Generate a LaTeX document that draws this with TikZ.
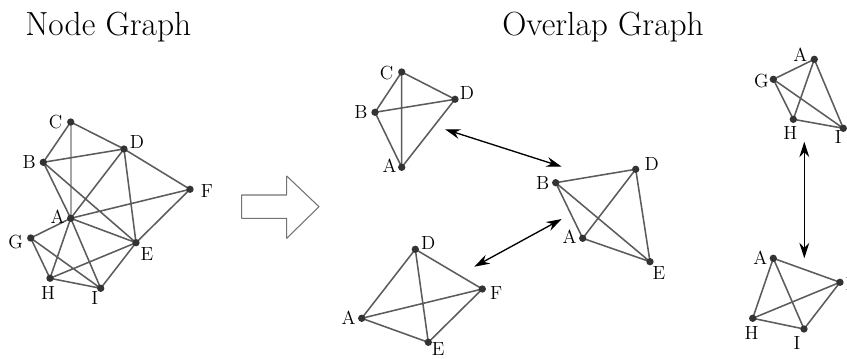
\documentclass[tikz,border=0pt]{standalone}
\usetikzlibrary{calc,arrows.meta}
\begin{document}
\begin{tikzpicture}[x=0.025cm,y=-0.025cm, line join=round, line cap=round,
	edge/.style={black!64,line width=1.1pt},
	lbl/.style={font=\fontsize{13.5}{14}\selectfont,inner sep=0pt},
	ttl/.style={font=\fontsize{23.8}{28}\selectfont,inner sep=0pt,anchor=base west},
	dbl/.style={{Stealth[length=11pt,width=7pt]}-{Stealth[length=11pt,width=7pt]},line width=0.95pt}]
	\useasboundingbox (0,0) rectangle (847,359);
	\node[ttl] (t1) at (25,36) {Node Graph};
	\node[ttl] (t2) at (502,36) {Overlap Graph};
	% node graph
	\coordinate (C) at (70.7,122);
	\coordinate (D) at (124,149);
	\coordinate (B) at (43.3,162.3);
	\coordinate (F) at (190,189.3);
	\coordinate (A) at (70.7,218.3);
	\coordinate (G) at (30.7,238);
	\coordinate (E) at (136,242.7);
	\coordinate (H) at (50,278.3);
	\coordinate (I) at (100.7,288.3);
	\draw[black!35,line width=1.4pt] (C)--(A);
	\draw[edge] (C)--(B) (C)--(D) (B)--(D) (B)--(A) (B)--(E) (D)--(A) (D)--(E) (D)--(F)
		(A)--(F) (A)--(E) (A)--(G) (A)--(H) (A)--(I) (E)--(F) (E)--(H) (E)--(I)
		(G)--(H) (G)--(I) (H)--(I);
	% hollow arrow
	\coordinate (h1) at (241.7,195);
	\draw[black!55,line width=0.75pt] (h1) -- ++(45,0) -- ++(0,-19) -- (319,206.7) -- (286.7,238.3)
		-- ++(0,-20) -- ++(-45,0) -- cycle;
	% overlap graph: clique ABCD
	\coordinate (C1) at (401.7,72);
	\coordinate (D1) at (455,99.3);
	\coordinate (B1) at (375,112.3);
	\coordinate (A1) at (401.7,167.3);
	% clique ADEF
	\coordinate (D2) at (415.3,249.3);
	\coordinate (F2) at (482.3,289);
	\coordinate (A2) at (361.7,318.3);
	\coordinate (E2) at (428.3,342.3);
	% clique ABDE
	\coordinate (B3) at (555.7,182.7);
	\coordinate (D3) at (635.7,169.3);
	\coordinate (A3) at (582.7,238.3);
	\coordinate (E3) at (650,261.7);
	% clique AGHI
	\coordinate (A4) at (814.3,59.3);
	\coordinate (G4) at (773.3,79.3);
	\coordinate (H4) at (793.3,119.3);
	\coordinate (I4) at (843.3,128.3);
	% clique AEHI
	\coordinate (A5) at (773.3,258.3);
	\coordinate (E5) at (840,282.3);
	\coordinate (H5) at (752.7,318.3);
	\coordinate (I5) at (804,329);
	\foreach \p/\q/\r/\s in {A1/B1/C1/D1, A2/D2/E2/F2, A3/B3/D3/E3, A4/G4/H4/I4, A5/E5/H5/I5}
		\draw[edge] (\p)--(\q) (\p)--(\r) (\p)--(\s) (\q)--(\r) (\q)--(\s) (\r)--(\s);
	\foreach \p in {A,B,C,D,E,F,G,H,I,A1,B1,C1,D1,A2,D2,E2,F2,A3,B3,D3,E3,A4,G4,H4,I4,A5,E5,H5,I5}
		\fill[black!80] (\p) circle (2.6pt);
	% labels
	\foreach \p/\t/\dx/\dy in {C/C/-15/0, D/D/13/-7, B/B/-14/0, F/F/17/2, A/A/-13/-2, G/G/-15/4,
		E/E/11/11, H/H/-2/15, I/I/-6/10,
		C1/C/-15/1, D1/D/12/-6, B1/B/-14/0, A1/A/-12/-2,
		D2/D/13/-6, F2/F/14/4, A2/A/-13/-1, E2/E/10/6.5,
		B3/B/-13/0, D3/D/16/-5, A3/A/-13/-2, E3/E/9/11,
		A4/A/-14/-5, G4/G/-12/2, H4/H/-3/14, I4/I/-5/9,
		A5/A/-13/-1, E5/E/12/2, H5/H/-1/15, I5/I/-7/14}
		\node[lbl] (l\p) at ($(\p)+(\dx,\dy)$) {\t};
	% overlap arrows
	\coordinate (u1) at (445,129.3);
	\coordinate (u2) at (561.7,166.7);
	\coordinate (v1) at (474.3,266.7);
	\coordinate (v2) at (561.7,219);
	\coordinate (w1) at (804.3,141.7);
	\coordinate (w2) at (804.3,258.3);
	\draw[dbl] (u1)--(u2);
	\draw[dbl] (v1)--(v2);
	\draw[dbl] (w1)--(w2);
\end{tikzpicture}
\end{document}
